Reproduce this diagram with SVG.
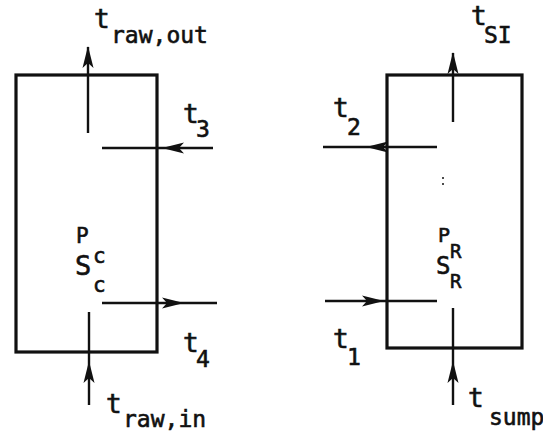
<svg xmlns="http://www.w3.org/2000/svg" width="543" height="435" viewBox="0 0 543 435">
<style>
.box{fill:none;stroke:#111;stroke-width:3.2;stroke-linejoin:miter}
.ln{fill:none;stroke:#111;stroke-width:2.4}
.ah{marker-end:url(#ah)}
.am{marker-mid:url(#ah)}
text{font-family:"DejaVu Sans Mono","Liberation Mono",monospace;fill:#111;stroke:#111;stroke-width:0.6}
.m{font-size:26px}
.s{font-size:23px}
.d{font-size:23px}
</style>
<defs>
<marker id="ah" markerUnits="userSpaceOnUse" markerWidth="24" markerHeight="14" viewBox="-22 -7 24 14" refX="0" refY="0" orient="auto" overflow="visible">
<path d="M1,0 L-21,-5.5 L-16,0 L-21,5.5 Z" fill="#111"/>
</marker>
</defs>
<rect width="543" height="435" fill="#fff"/>
<g id="condenser">
<rect class="box" x="16" y="75" width="141" height="277"/>
<text x="76" y="243" style="font-size:21px">P</text>
<text x="75" y="275" style="font-size:27px">S</text>
<text x="93" y="263" style="font-size:21px">c</text>
<text x="93" y="292" style="font-size:21px">c</text>
</g>
<g id="reboiler">
<rect class="box" x="387" y="75" width="135" height="273"/>
<text x="438" y="242" style="font-size:20px">P</text>
<text x="436" y="274" style="font-size:24px">S</text>
<text x="450" y="258" style="font-size:19px">R</text>
<text x="450" y="288" style="font-size:19px">R</text>
<circle cx="443" cy="178" r="1" fill="#111"/>
<circle cx="443" cy="184" r="1" fill="#111"/>
</g>
<g id="connectors">
<path class="ln ah" d="M88,133 L88,47"/>
<path class="ln am" d="M213,148 L163,148 L102,148"/>
<path class="ln am" d="M102,303 L183,303 L217,303"/>
<path class="ln am" d="M89,405 L89,362 L89,312"/>
<path class="ln ah" d="M453,122 L453,53"/>
<path class="ln am" d="M437,147 L367,147 L323,147"/>
<path class="ln am" d="M325,301 L383,301 L437,301"/>
<path class="ln am" d="M453,405 L453,362 L453,308"/>
</g>
<g id="labels">
<text class="m" x="94" y="28">t</text>
<text class="s" x="111" y="43">raw,out</text>
<text class="m" x="183" y="123">t</text>
<text class="d" x="196" y="137">3</text>
<text class="m" x="183" y="352">t</text>
<text class="d" x="196" y="367">4</text>
<text class="m" x="106" y="413">t</text>
<text class="s" x="123" y="427">raw,in</text>
<text class="m" x="471" y="25">t</text>
<text class="d" x="484" y="43">SI</text>
<text class="m" x="333" y="117">t</text>
<text class="d" x="347" y="135">2</text>
<text class="m" x="333" y="348">t</text>
<text class="d" x="347" y="365">1</text>
<text class="m" x="468" y="407">t</text>
<text class="s" x="489" y="425">sump</text>
</g>
</svg>
